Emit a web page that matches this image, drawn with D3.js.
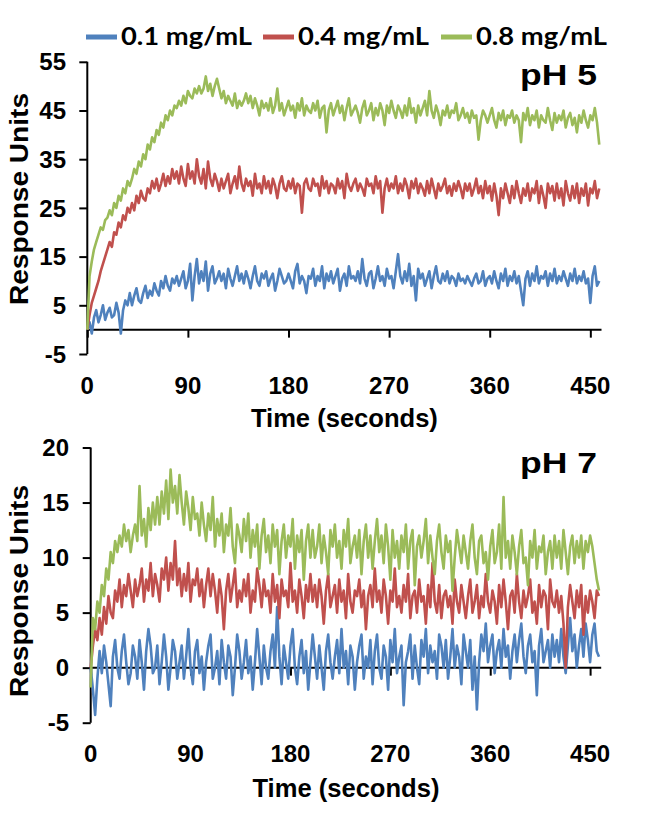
<!DOCTYPE html>
<html><head><meta charset="utf-8">
<script src="https://cdn.jsdelivr.net/npm/d3@7"></script>
<style>
html,body{margin:0;padding:0;background:#fff;}
svg{display:block;}
</style></head>
<body>
<svg id="chart" width="669" height="822"></svg>
<script>
// ---------- data ----------
const seriesNames = ["0.1 mg/mL", "0.4 mg/mL", "0.8 mg/mL"];
const seriesColors = ["#4F81BD", "#C0504D", "#9BBB59"];
const sampleStart = 0, sampleStep = 2; // seconds between samples
const xTickValues = [0, 90, 180, 270, 360, 450];
const yTicksPH5 = [-5, 5, 15, 25, 35, 45, 55];
const yTicksPH7 = [-5, 0, 5, 10, 15, 20];

const ph5_01 = [
0,1.5,-0.8,2.5,4,1.5,3,5,2,3.5,
4.5,2.5,3,5.5,3.5,-0.8,4,6,5,7.5,
5,7,8.5,6,5.5,7.5,9,6.5,8,7,
9.5,8,7,10,8.5,11,9,8,10.5,9.5,
11,9,10.5,12,8.5,10,13.5,6,11,14.5,
9.5,12,10,14,8,11.5,13,9.5,10.5,12,
10,11.5,8.5,12.5,10.5,9,11,13,10,11.5,
9.5,12,10.5,8.5,11,13,10,9,11.5,10.5,
12,9,10.5,11.5,8,10,12.5,11,9.5,10,
11.5,10,8.5,12,13.5,9.5,11,10,7.5,11,
10.5,12.5,9,11,10,13,8.5,11.5,10,12,
9.5,11,12.5,8,10.5,11.5,9,13,10.5,11,
10,12,9.5,14.5,10.5,9,11.5,12,8.5,10.5,
13,10,11,9,12.5,10.5,11,8.5,12,15.5,
11,9.5,12,10,13.5,9,11,6,12.5,10.5,
11.5,9,10.5,12,8.5,11,13,10,9.5,11.5,
10,12,9.5,11,10.5,9,11.5,10,10.5,9.5,
11,10,9,10.5,11.5,9.5,10,12,9,10.5,
11,9.5,12,10,8.5,11.5,10,12.5,9,11,
10,12,9.5,11,8,5,10.5,12,9,11.5,
10,13,9.5,11,10.5,12,9,11.5,10,12.5,
9.5,11,10,12,10.5,9,11.5,10,12.5,9.5,
11,10,12,9.5,10.5,5.5,11,13,9,10];
const ph5_04 = [
0,3,5.5,7,8.5,10,12,13.5,15,16.5,
18,17,20,19.5,22,21,23.5,22.5,25,24,
26,24.5,27.5,26,28.5,27,26.5,29,28,30.5,
29,31,28.5,30,32,29.5,31.5,30,33,31,
32.5,30,33.5,31,29.5,34,31,32.5,30,35,
31.5,30,33,29,34.5,31,29.5,32,30.5,28.5,
31,29,30.5,32,28,30,31.5,29,33.5,30,
28.5,31,29.5,30.5,27.5,32,29,30,28,31.5,
29,30.5,28,31,29.5,27,30,31.5,29,28.5,
30.5,29,31,28,30,29.5,24,30,31,29,
28.5,31,29.5,30,27.5,31.5,29,30.5,28,30,
29.5,28,31,29,30.5,27,32,29.5,28.5,30,
31,28.5,30,29,27.5,31,29.5,30,28,31.5,
29,30.5,24,29,31,28.5,30,29,31.5,28,
30,28.5,31,29.5,27,30.5,29,31,28,30,
29,27.5,30.5,28,31,29,27,30,28.5,29.5,
31,28,29.5,27.5,30,28.5,30.5,29,27,30,
28.5,30,27.5,29,31,28,29.5,27,30.5,28,
29.5,26.5,30,27.5,23.5,29,27,30,28,26,
29.5,27,30.5,28,26,29,27.5,30,26.5,29,
28,30.5,26,29.5,27.5,25,30,28,29.5,26.5,
30,27,29,25.5,30.5,28,26.5,29.5,27,30,
26,29,27.5,30,25.5,29,28,30.5,27,29];
const ph5_08 = [
0,11,14,16.5,18,19.5,21,20.5,22.5,23,
24.5,23.5,26,25,27.5,26.5,29,28,30.5,29.5,
31,33,32,34.5,33.5,36,35,38,37,39.5,
38.5,41,40,42.5,41.5,44,43,45,44,46,
45.5,47,46,48,46.5,49,48,47.5,49.5,48.5,
50,48.5,49.5,52,49,50.5,48,50,51.5,49.5,
47.5,49,46.5,48,47,46,48.5,45.5,47,46,
47,48.5,46.5,48,45.5,47.5,46,44,47,45.5,
46.5,45,47.5,44.5,46,49.5,45,46.5,44,45.5,
47,45,46,43.5,46.5,45,47.5,44,46,45,
44.5,46.5,45,47,43.5,45.5,46,40.5,45,46.5,
44,45.5,47,44.5,46,43,45.5,47.5,44,45,
46,44.5,42.5,45.5,47,44,45,46.5,43,45.5,
44,46.5,45,42,46,44.5,47,45,43.5,46,
45,43.5,46,44,47.5,44.5,45.5,42.5,46,44,
45.5,47,44,49,45,43.5,46,44.5,42,45,
44,46,43.5,45,44.5,46.5,43,44,45.5,43.5,
44.5,42.5,45,43.5,44,39,43,45,44,42.5,
44,45.5,43,41.5,44.5,43,45,42,44,43.5,
45,42.5,44,43,38.5,44.5,43,45.5,42,44,
43,45,41.5,44,43,42.5,45.5,43,41,44.5,
42.5,44,43,45,41.5,43.5,44.5,42,43.5,40.5,
44,42.5,45,43,41.5,44,43,45.5,42.5,38];

const ph7_01 = [
0,-2,-4.3,-1,1.5,-0.5,2,0.5,-1.5,-3.5,
1,2.5,0,-1,1.5,3,0.5,-1.5,-0.5,2,
1,-1,2.5,0.5,-2,1.5,3.5,2,-0.5,0,
2,-1.5,0.5,3,1,-2,0,2.5,1.5,-1,
0.5,2,-1,1,3.5,0,-1.5,1.5,2.5,-0.5,
1,-2,0.5,2,3,-1,0,1.5,-1.5,2.5,
0.5,-1,2,1,-2.5,0,3,1.5,-1,0.5,
2.5,-0.5,1,-2,0.5,3.5,1,-1.5,2,0,
-1,1.5,3,0,5.5,1,-1.5,2,0.5,-1,
2,3.5,0,-1.5,1,2.5,-0.5,1.5,-2,0.5,
3,1,-1,2,0,-2,1.5,3,0.5,-1,
1,2.5,-0.5,3.5,0,1.5,-1.5,2,1,-2,
0.5,2,3,-1,1,0,2.5,-1.5,1.5,3,
0,-1,2,1,-2,2.5,0.5,3.5,-0.5,1,
2,-3.4,0.5,1.5,3,-1,2,0,-1.5,2.5,
1,3.5,-0.5,2,0.5,1.5,-1,3,2,0,
2.5,-1,1,3.5,0,2,1,-1.5,3,1.5,
0,2.5,-2,1,-3.8,0.5,3,1.5,4,0.5,
2,3,-0.5,1.5,2.5,0,3.5,1,2,-1,
1.5,3,0.5,2.5,4,1,-0.5,2,3,0.5,
1.5,-2.5,2,3.5,0.5,1.5,2.5,0,3,1,
2.5,0.5,3.5,1,-0.5,2,4.5,1.5,3,0,
2,3.5,1,4,2.5,0.5,3,4,1.5,1];
const ph7_04 = [
0,2,3.5,2.5,4.5,3,5.5,4,6.5,5,
4.5,7,6,8,5.5,7.5,6.5,8.5,7,5.5,
8,6.5,7.5,9,6,8,7,9.5,6.5,8.5,
7.5,6,9,8,10,7,9.5,8,11.5,7.5,
9,6.5,8.5,7,9.5,6,8,7.5,9,6.5,
8,5.5,7.5,9,6.5,8.5,7,5,8,6.5,
3.5,7,8.5,6,7.5,9,5.5,7,6,8,
6.5,8.5,5,7,6,9,7.5,5.5,8,6.5,
7,5,8.5,6,7.5,4.5,8,6.5,7,5.5,
9.5,6,7,5,8,6.5,4.5,7.5,6,8.5,
6,7.5,5.5,8,6.5,4,7,8.5,5.5,6.5,
7.5,5,8,6,7,4.5,8.5,6,5,7,
6.5,8,5.5,7,3.5,6.5,7.5,5.5,9,6,
7,5,8,6.5,4,7,6,9,5.5,6.5,
5,7.5,6,8.5,4.5,6.5,7,5,8,6,
6.5,4,7.5,5.5,9.5,6,5,7.5,4.5,6.5,
7,5.5,6.5,4,8,6,5,7.5,6,4.5,
6.5,8,5,6,7.5,4.5,6.5,5.5,8.5,6,
5,7,6,4,7.5,5.5,8,6,3.5,6.5,
7,5,8.5,6,4.5,7,5.5,6.5,8,5,
6,4,7.5,5.5,7,6.5,3.5,8,6,5.5,
7,5,6.5,4,0,5.5,7.5,6,4.5,7,
5.5,7.5,3,6.5,5,7,6,4.5,7,6.5];
const ph7_08 = [
-1.8,4.5,3.5,6,5,7.5,6.5,9,8,10.5,
9.5,11.5,10.5,12,11,13,11.5,12.5,10.5,12,
13,11.5,16.5,12,13.5,11,14.5,12.5,15,13,
15.5,13,16,14,17,13.5,18,15,16.5,14,
17.5,15,13,16,14.5,12.5,15.5,13.5,14,12,
15,13,11.5,14,12.5,15.5,11,13.5,12,14,
10.5,13,12,14.5,11,9.5,13,12,10.5,13.5,
11.5,14,10,12.5,11,13,9,12,13.5,10.5,
12,9.5,13,11,12.5,8.5,11.5,13,10,12,
11,13.5,9,12,10.5,12.5,8,11.5,13,10,
12.5,10,11,13,9.5,12,10.5,8.5,12.5,11,
13,10,11.5,9,12.5,11,13.5,9.5,11,12,
10,12.5,8.5,11.5,13,10,12,9,11.5,13.5,
10.5,12,9.5,13,11,8,12.5,10,11.5,9,
12,10.5,13,9,11.5,12.5,7.5,11,12,10,
11.5,13.5,9.5,12,10,8.5,11.5,13,10.5,9,
12,10.5,11.5,7,10,12.5,11,9.5,12,10.5,
9,11.5,13,10,8.5,11.5,12,9.5,10.5,8,
11,12.5,9.5,10.5,13,9,15.5,10,11.5,9,
12,10.5,8.5,11,12.5,9.5,10,7.5,11.5,10,
12.5,9,11,10.5,12,8.5,10.5,11.5,9,12,
10,11.5,9,12.5,10.5,8.5,11,12,9.5,11.5,
10,12,9,11.5,10.5,12,11,9.5,8,7];

// ---------- layout ----------
const svg = d3.select("#chart");
const FONT = "'Liberation Sans', Arial, sans-serif";

function fit(sel, len){ sel.attr("textLength", len).attr("lengthAdjust","spacingAndGlyphs"); }

const panels = [
  { label:"pH 5", series:[ph5_01, ph5_04, ph5_08], yDomain:[-5,55], yTicks:yTicksPH5,
    xRange:[87.3,601.5], yRange:[354,61.8], xLabelY:394, yLabelRight:66,
    titleY:427, phY:85, yTitleY:199 },
  { label:"pH 7", series:[ph7_01, ph7_04, ph7_08], yDomain:[-5,20], yTicks:yTicksPH7,
    xRange:[90.7,601.2], yRange:[722.7,447.5], xLabelY:762, yLabelRight:69,
    titleY:797, phY:473, yTitleY:591 }
];

panels.forEach(p => {
  const x = d3.scaleLinear().domain([0,460]).range(p.xRange);
  const y = d3.scaleLinear().domain(p.yDomain).range(p.yRange);
  const g = svg.append("g");

  // y axis
  const yAx = g.append("g").attr("transform", `translate(${x(0)},0)`)
    .call(d3.axisLeft(y).tickValues(p.yTicks).tickSize(8).tickFormat(""));
  yAx.select(".domain").attr("d", `M-0,${y(p.yDomain[0])}V${y(p.yDomain[1])}`);
  yAx.selectAll("path,line").attr("stroke","#000").attr("stroke-width",2);

  // x axis at y=0
  const xAx = g.append("g").attr("transform", `translate(0,${y(0)})`)
    .call(d3.axisBottom(x).tickValues(xTickValues).tickSize(8).tickFormat(""));
  xAx.select(".domain").attr("d", `M${x(0)},0H${x(460)}`);
  xAx.selectAll("path,line").attr("stroke","#000").attr("stroke-width",2);

  // tick labels
  g.selectAll(".yl").data(p.yTicks).join("text")
    .attr("x", p.yLabelRight).attr("y", d => y(d)).attr("dy","0.36em")
    .attr("text-anchor","end").attr("font-family",FONT).attr("font-weight","bold")
    .attr("font-size",24).text(d => d);
  g.selectAll(".xl").data(xTickValues).join("text")
    .attr("x", d => x(d)).attr("y", p.xLabelY)
    .attr("text-anchor","middle").attr("font-family",FONT).attr("font-weight","bold")
    .attr("font-size",24).text(d => d);

  // axis titles
  g.append("text").attr("x", (p.xRange[0]+p.xRange[1])/2).attr("y", p.titleY)
    .attr("text-anchor","middle").attr("font-family",FONT).attr("font-weight","bold")
    .attr("font-size",25).text("Time (seconds)").call(fit, 187);
  g.append("text").attr("transform",`translate(28,${p.yTitleY}) rotate(-90)`)
    .attr("text-anchor","middle").attr("font-family",FONT).attr("font-weight","bold")
    .attr("font-size",26).text("Response Units").call(fit, 212);

  // pH label
  g.append("text").attr("x",520).attr("y",p.phY).attr("font-family",FONT)
    .attr("font-weight","bold").attr("font-size",30).text(p.label).call(fit, 77);

  // lines
  const line = d3.line().x((d,i) => x(sampleStart + i*sampleStep)).y(d => y(d));
  p.series.forEach((s, k) => {
    g.append("path").datum(s).attr("d", line).attr("fill","none")
      .attr("stroke", seriesColors[k]).attr("stroke-width",2.6)
      .attr("stroke-linejoin","round");
  });
});

// legend
const legendSwatchX = [86, 263, 441];
const leg = svg.append("g");
seriesNames.forEach((n,k) => {
  leg.append("line").attr("x1",legendSwatchX[k]).attr("x2",legendSwatchX[k]+31)
    .attr("y1",37).attr("y2",37).attr("stroke",seriesColors[k]).attr("stroke-width",5);
  leg.append("text").attr("x",legendSwatchX[k]+35).attr("y",45)
    .attr("font-family","Lato, 'Open Sans', sans-serif").attr("font-weight","bold")
    .attr("font-size",25).text(n).call(fit, 131);
});
</script>
</body></html>
